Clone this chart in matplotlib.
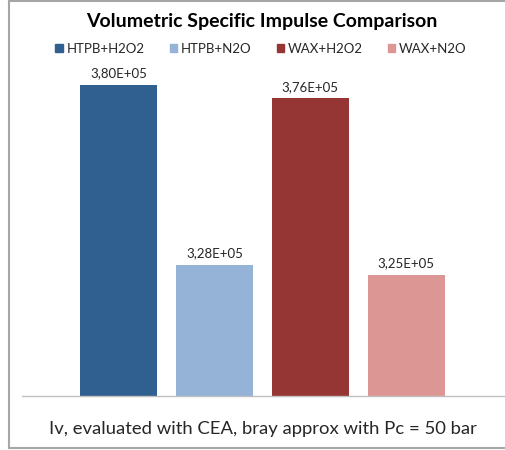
import matplotlib
matplotlib.use("Agg")
import matplotlib.pyplot as plt
from matplotlib.patches import Rectangle
from matplotlib.lines import Line2D

series = ["HTPB+H2O2", "HTPB+N2O", "WAX+H2O2", "WAX+N2O"]
values = [3.80e5, 3.28e5, 3.76e5, 3.25e5]
colors = ["#30608F", "#95B3D7", "#963634", "#DC9795"]
title = "Volumetric Specific Impulse Comparison"
caption = "Iv, evaluated with CEA, bray approx with Pc = 50 bar"

plt.rcParams['font.family'] = ['Lato', 'DejaVu Sans']

W, H = 505, 450
fig = plt.figure(figsize=(W/100, H/100), dpi=100)

ax = fig.add_axes([22/W, (H-396)/H, 483/W, 346/H])
x = list(range(len(series)))
bars = ax.bar(x, values, width=0.8, color=colors, label=series)
ax.bar_label(bars, labels=[f"{v:.2E}".replace('.', ',') for v in values],
             padding=4, fontsize=9.5, color="#262626")
ax.set_xlim(-1.005, 3 + 1.03)
ax.set_ylim(2.9e5, 3.9e5)
for s in ["top", "right", "left"]:
    ax.spines[s].set_visible(False)
ax.spines["bottom"].set_color("#BFBFBF")
ax.spines["bottom"].set_linewidth(1.0)
ax.set_xticks([])
ax.set_yticks([])

fig.text(262/W, 1 - 21/H, title, ha="center", va="center",
         fontsize=14, fontweight="bold", color="black")

handles = [Rectangle((0, 0), 1, 1, color=c) for c in colors]
fig.legend(handles, series, loc="center", bbox_to_anchor=(261/W, 1 - 49/H),
           ncol=4, frameon=False, fontsize=9.5, handlelength=0.55,
           handleheight=0.55, handletextpad=0.3, columnspacing=1.9,
           labelcolor="#262626")

fig.text(263/W, 1 - 429/H, caption, ha="center", va="center",
         fontsize=13.3, color="#262626")

# chart border
fig.add_artist(Line2D([8.5/W, 8.5/W], [1 - 1/H, 1 - 448/H], color="#A6A6A6", lw=1.5))
fig.add_artist(Line2D([8.5/W, 1], [1 - 1/H, 1 - 1/H], color="#A6A6A6", lw=1.5))
fig.add_artist(Line2D([8.5/W, 1], [1 - 448/H, 1 - 448/H], color="#A6A6A6", lw=1.5))

fig.savefig("out.png", dpi=100)
